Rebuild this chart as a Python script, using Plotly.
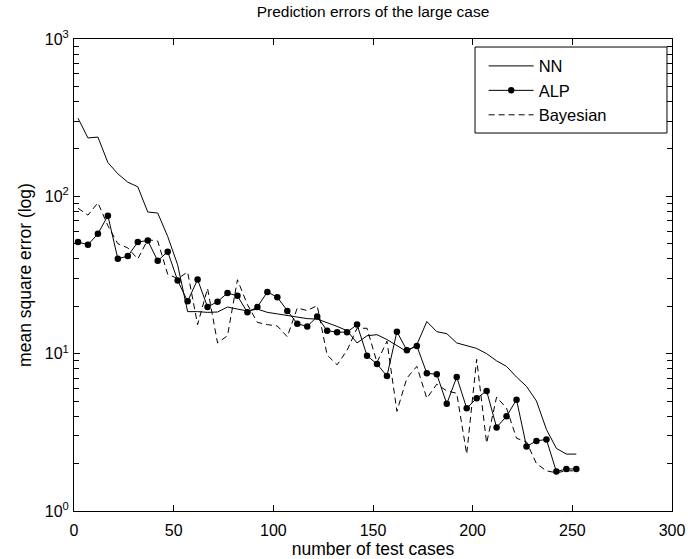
import plotly.graph_objects as go

# number of test cases (x positions of the samples)
test_cases = [2, 7, 12, 17, 22, 27, 32, 37, 42, 47, 52, 57, 62, 67, 72, 77, 82, 87, 92, 97,
              102, 107, 112, 117, 122, 127, 132, 137, 142, 147, 152, 157, 162, 167, 172, 177,
              182, 187, 192, 197, 202, 207, 212, 217, 222, 227, 232, 237, 242, 247, 252]

nn_mse = [314, 235, 238, 164, 139, 123, 115, 79.5, 78.3, 55.6, 36.7, 18.5, 18.5, 18.3, 18.4,
          19.8, 19.2, 18.7, 19.2, 18.3, 17.9, 17.5, 17.0, 16.7, 16.6, 15.8, 14.9, 14.0, 11.7,
          13.0, 13.2, 12.3, 11.3, 10.3, 11.4, 16.0, 13.8, 13.4, 11.7, 11.3, 10.8, 10.0, 9.0,
          8.3, 7.1, 6.2, 5.0, 3.3, 2.5, 2.3, 2.3]

alp_mse = [51.2, 49.2, 57.8, 75.3, 40.1, 41.7, 51.2, 52.4, 38.9, 44.5, 29.2, 21.5, 29.6, 19.8,
           21.4, 24.3, 23.3, 18.3, 19.8, 24.7, 22.8, 18.7, 15.5, 14.9, 17.2, 14.0, 13.7, 13.7,
           15.3, 9.7, 8.6, 7.2, 13.8, 10.5, 11.2, 7.5, 7.4, 4.8, 7.1, 4.5, 5.2, 5.8, 3.4, 4.0,
           5.1, 2.57, 2.79, 2.85, 1.78, 1.85, 1.85]

bayes_mse = [84, 76, 91, 65, 50, 47, 40, 53, 52, 32, 30, 33, 15.3, 26, 11.7, 13, 29.5, 20.5,
             15.8, 15.3, 15, 12.8, 19.5, 18.8, 20.2, 9.8, 8.5, 10.5, 14.5, 14.5, 8.8, 12, 4.3,
             7, 8.3, 5.2, 6.4, 5.8, 5.6, 2.3, 9.2, 2.7, 5.3, 4.5, 2.9, 2.75, 2.0, 1.8, 1.75,
             1.8, 1.8]

y_tick_vals = [1, 10, 100, 1000]
y_tick_text = ["10<sup>0</sup>", "10<sup>1</sup>", "10<sup>2</sup>", "10<sup>3</sup>"]
y_minor_vals = [m * d for d in (1, 10, 100) for m in range(2, 10)]
x_tick_vals = [0, 50, 100, 150, 200, 250, 300]

FONT = "Liberation Sans, Arial, Helvetica, sans-serif"

fig = go.Figure()
fig.add_trace(go.Scatter(x=test_cases, y=nn_mse, mode="lines", name="NN",
                         line=dict(color="black", width=1)))
fig.add_trace(go.Scatter(x=test_cases, y=alp_mse, mode="lines+markers", name="ALP",
                         line=dict(color="black", width=1),
                         marker=dict(color="black", size=6.5, symbol="circle")))
fig.add_trace(go.Scatter(x=test_cases, y=bayes_mse, mode="lines", name="Bayesian",
                         line=dict(color="black", width=1, dash="6px,4px")))

fig.update_layout(
    width=688, height=559,
    margin=dict(l=74, r=16, t=39, b=48, autoexpand=False),
    paper_bgcolor="white", plot_bgcolor="white",
    font=dict(family=FONT, size=16, color="black"),
    title=dict(text="Prediction errors of the large case", x=0.5, xref="paper",
               y=1 - 12 / 559, yref="container", yanchor="middle", xanchor="center",
               automargin=False,
               font=dict(size=15.5, family=FONT, color="black")),
    showlegend=True,
    legend=dict(x=0.685, y=0.9795, xanchor="left", yanchor="top", itemwidth=45,
                bgcolor="rgba(0,0,0,0)", borderwidth=0, traceorder="normal",
                font=dict(size=16.5, family=FONT, color="black")),
    shapes=[dict(type="rect", xref="paper", yref="paper", x0=0.6706, x1=0.9916,
                 y0=0.8008, y1=0.983, line=dict(color="black", width=1),
                 fillcolor="white", layer="below")],
)

fig.update_xaxes(range=[0, 300], tickvals=x_tick_vals, ticks="inside", ticklen=6,
                 tickcolor="black", showline=True, linecolor="black", linewidth=1,
                 mirror="allticks", showgrid=False, zeroline=False, ticklabelstandoff=5,
                 automargin=False,
                 title=dict(text="number of test cases", standoff=6,
                            font=dict(size=17.5, family=FONT)),
                 tickfont=dict(size=16, family=FONT))
fig.update_yaxes(type="log", range=[0, 3], tickvals=y_tick_vals, ticktext=y_tick_text,
                 ticks="inside", ticklen=6, tickcolor="black", showline=True,
                 linecolor="black", linewidth=1, mirror="allticks", showgrid=False,
                 zeroline=False, ticklabelstandoff=1, automargin=False,
                 minor=dict(tickmode="array", tickvals=y_minor_vals, ticks="inside",
                            ticklen=5, tickcolor="black", showgrid=False),
                 title=dict(text="mean square error (log)", standoff=8,
                            font=dict(size=17.5, family=FONT)),
                 tickfont=dict(size=16, family=FONT))

fig.write_html("out.html", config={"displayModeBar": False},
               post_script="document.body.style.margin='0px';")
